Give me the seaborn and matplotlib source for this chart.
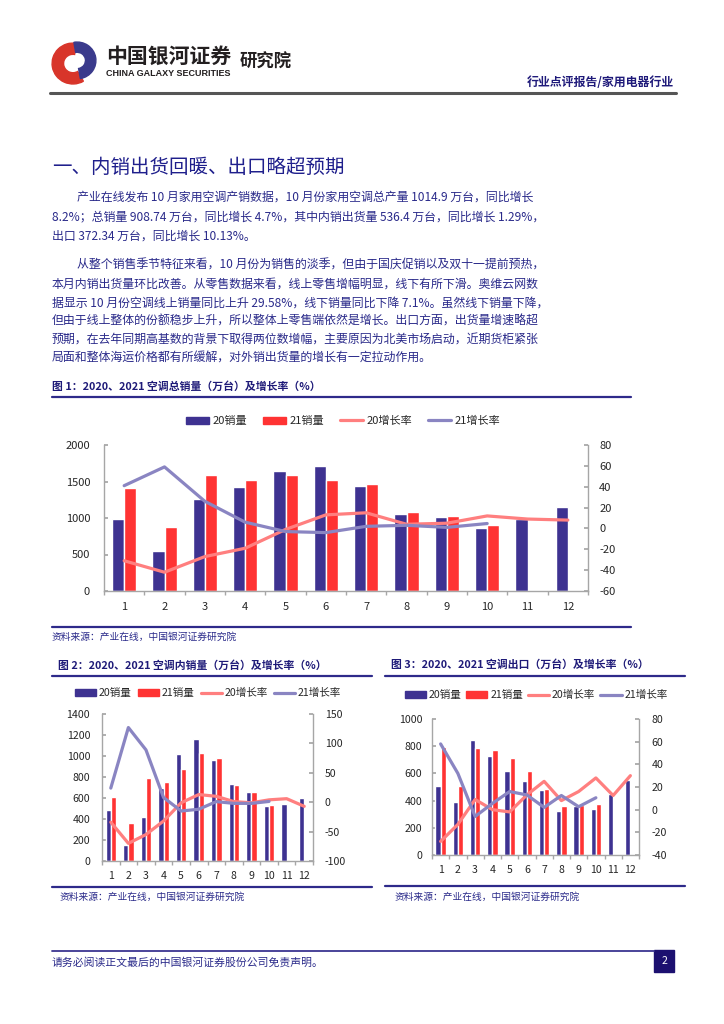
import numpy as np
import pandas as pd
import matplotlib
matplotlib.use('Agg')
import matplotlib.pyplot as plt
import seaborn as sns
from matplotlib.patches import Patch, Rectangle, Wedge
from matplotlib.lines import Line2D

W, H = 724, 1024

months = list(range(1, 13))
series_bar = ['20销量', '21销量']
series_rate = ['20增长率', '21增长率']

# 图1 空调总销量（万台）及增长率（%）
total_20 = [990, 550, 1260, 1430, 1640, 1715, 1440, 1050, 1015, 865, 985, 1150]
total_21 = [1405, 870, 1585, 1525, 1585, 1525, 1460, 1085, 1025, 909, np.nan, np.nan]
total_r20 = [-31, -42, -27, -19, -1, 13, 15, 4, 5, 12, 9, 8]
total_r21 = [41, 59, 26, 6, -3, -4, 2, 3, 1, 4.7, np.nan, np.nan]

# 图2 空调内销量
dom_20 = [488, 155, 418, 700, 1020, 1165, 958, 730, 660, 525, 540, 600]
dom_21 = [614, 362, 795, 752, 872, 1030, 980, 727, 660, 536, np.nan, np.nan]
dom_r20 = [-34, -70, -55, -32, -1, 13, 10, 1, -1, 4, 6, -7]
dom_r21 = [24, 127, 89, 8, -15, -12, 1, -2, -2, 1.3, np.nan, np.nan]

# 图3 空调出口
exp_20 = [506, 391, 843, 726, 614, 545, 477, 320, 359, 337, 447, 550]
exp_21 = [792, 506, 787, 770, 711, 614, 485, 360, 368, 372, np.nan, np.nan]
exp_r20 = [-28, -13, 9, 0, -2, 13, 25, 8, 16, 28, 12.5, 30]
exp_r21 = [58, 32, -6, 5.5, 16, 13, 2, 12.5, 2.6, 10.5, np.nan, np.nan]

NAVY = '#3E3291'
RED = '#FF3333'
PINK = '#FF7F7F'
LAV = '#8A85C2'
TEXT = '#2A2A8A'
GRAY = '#A6A6A6'

sns.set_theme(style='white')
plt.rcParams['font.family'] = ['Noto Sans CJK SC', 'DejaVu Sans']
plt.rcParams['axes.unicode_minus'] = False

fig = plt.figure(figsize=(W / 100, H / 100), dpi=100)


def rect(x0, y0, x1, y1):
    return [x0 / W, 1 - y1 / H, (x1 - x0) / W, (y1 - y0) / H]


def put(x, y, s, **kw):
    fig.text(x / W, 1 - y / H, s, va='center', **kw)


def hline(x0, x1, y, color, lw):
    fig.add_artist(Line2D([x0 / W, x1 / W], [1 - y / H, 1 - y / H], color=color, lw=lw))


# ---- header ----
logo = fig.add_axes(rect(50, 40, 98, 85))
logo.set_xlim(-1.15, 1.15)
logo.set_ylim(-1.1, 1.1)
logo.axis('off')
logo.add_patch(Wedge((-0.05, -0.05), 1.0, 80, 300, width=0.55, color='#D8352A'))
logo.add_patch(Wedge((0.15, 0.1), 0.9, 280, 460, width=0.5, color='#3A3A8C'))

put(106, 56, '中国银河证券', fontsize=15, fontweight='bold', color='#231F20')
put(106, 73, 'CHINA GALAXY SECURITIES', fontsize=6.5, fontweight='bold', color='#231F20',
    family=['Liberation Sans', 'DejaVu Sans'])
put(240, 62, '研究院', fontsize=12.5, fontweight='bold', color='#231F20')
put(674, 83, '行业点评报告/家用电器行业', fontsize=8.6, fontweight='bold', color='#1F1A7A', ha='right')
hline(50, 676, 92.5, '#555555', 2.2)

# ---- body text ----
put(52, 167, '一、内销出货回暖、出口略超预期', fontsize=14, color='#1F1F8C')

para = [
    (77, 197, '产业在线发布 10 月家用空调产销数据，10 月份家用空调总产量 1014.9 万台，同比增长'),
    (52, 216.5, '8.2%；总销量 908.74 万台，同比增长 4.7%，其中内销出货量 536.4 万台，同比增长 1.29%，'),
    (52, 236, '出口 372.34 万台，同比增长 10.13%。'),
    (77, 265, '从整个销售季节特征来看，10 月份为销售的淡季，但由于国庆促销以及双十一提前预热，'),
    (52, 284, '本月内销出货量环比改善。从零售数据来看，线上零售增幅明显，线下有所下滑。奥维云网数'),
    (52, 303, '据显示 10 月份空调线上销量同比上升 29.58%，线下销量同比下降 7.1%。虽然线下销量下降，'),
    (52, 321.5, '但由于线上整体的份额稳步上升，所以整体上零售端依然是增长。出口方面，出货量增速略超'),
    (52, 340, '预期，在去年同期高基数的背景下取得两位数增幅，主要原因为北美市场启动，近期货柜紧张'),
    (52, 358.5, '局面和整体海运价格都有所缓解，对外销出货量的增长有一定拉动作用。'),
]
for x, y, s in para:
    put(x, y, s, fontsize=8.6, color=TEXT)


def chart(box, v20, v21, r20, r21, ylim, ystep, rlim, rstep, fs, pads, legend_at, legend_kw):
    ax = fig.add_axes(rect(*box))
    bars = pd.DataFrame({'月份': months * 2, '销量': v20 + v21,
                         '系列': [series_bar[0]] * 12 + [series_bar[1]] * 12}).dropna()
    sns.barplot(data=bars, x='月份', y='销量', hue='系列', hue_order=series_bar,
                palette=[NAVY, RED], width=0.6, native_scale=True, saturation=1,
                errorbar=None, legend=False, ax=ax)
    ax2 = ax.twinx()
    rates = pd.DataFrame({'月份': months * 2, '增长率': r20 + r21,
                          '系列': [series_rate[0]] * 12 + [series_rate[1]] * 12}).dropna()
    sns.lineplot(data=rates, x='月份', y='增长率', hue='系列', hue_order=series_rate,
                 palette=[PINK, LAV], lw=2.3, legend=False, ax=ax2)

    ax.set_xlim(0.5, 12.5)
    ax.set_ylim(*ylim)
    ax.set_yticks(np.arange(ylim[0], ylim[1] + 1, ystep))
    ax2.set_ylim(*rlim)
    ax2.set_yticks(np.arange(rlim[0], rlim[1] + 1, rstep))
    ax.set_xticks(months)
    ax.set_xticks(np.arange(0.5, 13, 1), minor=True)
    for a in (ax, ax2):
        a.set_xlabel('')
        a.set_ylabel('')
        for sp in a.spines.values():
            sp.set_color(GRAY)
            sp.set_linewidth(1)
        a.spines['top'].set_visible(False)
    ax.spines['right'].set_visible(False)
    ax2.spines['left'].set_visible(False)
    ax2.spines['bottom'].set_visible(False)
    ax.tick_params(axis='y', direction='in', length=3, color=GRAY, pad=pads[0], labelsize=fs, left=True)
    ax2.tick_params(axis='y', direction='in', length=3, color=GRAY, pad=pads[1], labelsize=fs, right=True)
    ax.tick_params(axis='x', which='major', length=0, pad=pads[2], labelsize=fs)
    ax.tick_params(axis='x', which='minor', direction='out', length=3, color=GRAY, bottom=True)

    handles = [Patch(color=NAVY), Patch(color=RED),
               Line2D([], [], color=PINK, lw=2.3), Line2D([], [], color=LAV, lw=2.3)]
    fig.legend(handles, series_bar + series_rate, loc='center',
               bbox_to_anchor=(legend_at[0] / W, 1 - legend_at[1] / H), ncol=4,
               frameon=False, fontsize=fs, handleheight=0.6, **legend_kw)


title_kw = dict(fontsize=7.8, fontweight='bold', color='#1E1A78')
src = '资料来源：产业在线，中国银河证券研究院'

# 图1
put(52, 387, '图 1：2020、2021 空调总销量（万台）及增长率（%）', **title_kw)
hline(52, 631, 397, '#2E2A8A', 1.6)
chart((104, 445, 588, 591), total_20, total_21, total_r20, total_r21,
      (0, 2000), 500, (-60, 80), 20, 8, (10, 8, 8), (343, 421),
      dict(handlelength=2.1, handletextpad=0.3, columnspacing=1.4))
hline(52, 631, 627, '#2E2A8A', 1.6)
put(52, 637, src, fontsize=7, color=TEXT)

# 图2
put(58, 666, '图 2：2020、2021 空调内销量（万台）及增长率（%）', **title_kw)
hline(52, 372, 676, '#2E2A8A', 1.6)
chart((102, 714, 313, 861), dom_20, dom_21, dom_r20, dom_r21,
      (0, 1400), 200, (-100, 150), 50, 7.6, (8.5, 8.5, 7.5), (208, 693),
      dict(handlelength=2.0, handletextpad=0.25, columnspacing=0.6))
hline(52, 372, 886.5, '#2E2A8A', 1.6)
put(60, 897, src, fontsize=7, color=TEXT)

# 图3
put(391, 665, '图 3：2020、2021 空调出口（万台）及增长率（%）', **title_kw)
hline(385, 685, 676, '#2E2A8A', 1.6)
chart((432, 719, 639, 855), exp_20, exp_21, exp_r20, exp_r21,
      (0, 1000), 200, (-40, 80), 20, 7.6, (7, 9, 7), (536, 695),
      dict(handlelength=2.0, handletextpad=0.25, columnspacing=0.5))
hline(385, 685, 886, '#2E2A8A', 1.6)
put(395, 897, src, fontsize=7, color=TEXT)

# ---- footer ----
hline(52, 654, 951, '#3C3591', 1.3)
fig.add_artist(Rectangle((654 / W, 1 - 972 / H), 20 / W, 22 / H, color='#1C1070'))
put(664, 961, '2', fontsize=7.5, color='white', ha='center')
put(52, 962, '请务必阅读正文最后的中国银河证券股份公司免责声明。', fontsize=7.8, color=TEXT)

fig.savefig('out.png', dpi=100)
